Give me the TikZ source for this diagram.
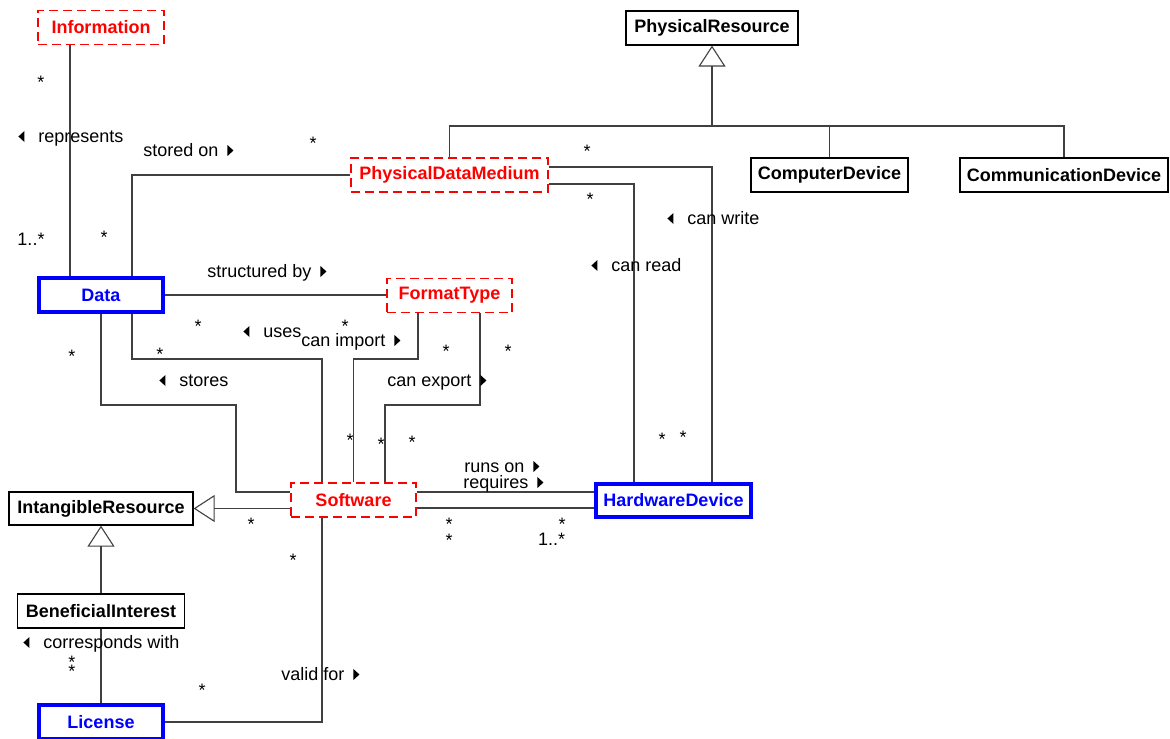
\documentclass[tikz,border=0pt]{standalone}
\usepackage{fontspec}
\setmainfont{Liberation Sans}
\usepackage{tikz}
\usetikzlibrary{arrows.meta, calc}
\definecolor{SoftRed}{rgb}{1,0,0}
\definecolor{CoreBlue}{rgb}{0,0,1}
\definecolor{LineGray}{rgb}{0.25,0.25,0.25}
\newcommand{\rtri}{\hspace{4.5pt}\tikz[baseline=0pt]\fill (0pt,0pt) -- (0pt,5.5pt) -- (3pt,2.75pt) -- cycle;}
\newcommand{\ltri}{\tikz[baseline=0pt]\fill (3pt,0pt) -- (3pt,5.5pt) -- (0pt,2.75pt) -- cycle;\hspace{7pt}}

\begin{document}
\begin{tikzpicture}[x=0.5pt, y=-0.5pt,
    cls/.style={draw, rectangle, inner sep=0pt, minimum height=17pt, line width=0.6pt,
      font=\fontsize{9}{11}\selectfont\bfseries},
    soft/.style={draw=SoftRed, text=SoftRed, dash pattern=on 4.5pt off 2.5pt, line width=0.8pt},
    core/.style={draw=CoreBlue, text=CoreBlue, line width=2pt},
    assoc/.style={draw=LineGray, line width=0.55pt},
    gen/.style={assoc, -{Triangle[open, length=10.5pt, width=13.5pt]}},
    lbl/.style={anchor=base west, inner sep=0pt, font=\fontsize{9}{11}\selectfont},
    mult/.style={anchor=base, inner sep=0pt, font=\fontsize{9}{11}\selectfont}]
  \useasboundingbox (0,0) rectangle (1170,738);

  % classes
  \node[cls, soft, minimum width=63pt] (info) at (101,27.5) {Information};
  \node[cls, minimum width=86pt] (physres) at (712,28) {PhysicalResource};
  \node[cls, soft, minimum width=98.5pt] (pdm) at (449.5,175) {PhysicalDataMedium};
  \node[cls, minimum width=78.5pt] (compdev) at (829.5,175) {ComputerDevice};
  \node[cls, minimum width=104pt] (commdev) at (1064,175) {CommunicationDevice};
  \node[cls, core, minimum width=62pt] (data) at (101,295) {Data};
  \node[cls, soft, minimum width=62.5pt] (fmt) at (449.5,295.5) {FormatType};
  \node[cls, soft, minimum width=62.5pt] (sw) at (353.5,500) {Software};
  \node[cls, core, minimum width=77.5pt, minimum height=16.5pt] (hw) at (673.5,500.5) {HardwareDevice};
  \node[cls, minimum width=92pt, minimum height=16.5pt] (intang) at (101,508.5) {IntangibleResource};
  \node[cls, minimum width=83.5pt] (benef) at (101,611) {BeneficialInterest};
  \node[cls, core, minimum width=62pt] (lic) at (101,722) {License};

  % bend points
  \coordinate (xi) at (70,0);
  \coordinate (so) at (132,175);
  \coordinate (u1) at (132,359);
  \coordinate (u2) at (322,359);
  \coordinate (st1) at (236,405);
  \coordinate (st2) at (236,492);
  \coordinate (im) at (418,359);
  \coordinate (ex1) at (385,405);
  \coordinate (ex2) at (480,405);
  \coordinate (v1) at (322,722);
  \coordinate (w1) at (712,167);
  \coordinate (r1) at (634,184);
  \coordinate (bus) at (712,126);

  % generalisations
  \draw[gen] (bus) -- (physres.south);
  \draw[assoc] (pdm.north) |- (bus) -| (commdev.north);
  \draw[assoc] (compdev.north) -- (compdev.north |- bus);
  \draw[gen] (sw.west |- intang.east) -- (intang.east);
  \draw[gen] (benef.north) -- (intang.south);

  % associations
  \draw[assoc] (info.south -| xi) -- (data.north -| xi);
  \draw[assoc] (data.north -| so) -- (so) -- (pdm.west);
  \draw[assoc] (data.east) -- (fmt.west |- data.east);
  \draw[assoc] (data.south -| u1) -- (u1) -- (u2) -- (sw.north -| u2);
  \draw[assoc] (data.south) |- (st1) -- (st2) -- (sw.west |- st2);
  \draw[assoc] (sw.north) |- (im) -- (fmt.south -| im);
  \draw[assoc] (sw.north -| ex1) -- (ex1) -- (ex2) -- (fmt.south -| ex2);
  \draw[assoc] ([yshift=4pt]sw.east) -- ([yshift=4pt]sw.east -| hw.west);
  \draw[assoc] ([yshift=-4pt]sw.east) -- ([yshift=-4pt]sw.east -| hw.west);
  \draw[assoc] (sw.south -| v1) -- (v1) -- (lic.east);
  \draw[assoc] (benef.south) -- (lic.north);
  \draw[assoc] (pdm.east |- w1) -- (w1) -- (hw.north -| w1);
  \draw[assoc] (pdm.east |- r1) -- (r1) -- (hw.north -| r1);

  % role names
  \node[lbl] (lrep) at (18,142) {\ltri represents};
  \node[lbl] (lsto) at (143,156) {stored on\rtri};
  \node[lbl] (lstr) at (207,277) {structured by\rtri};
  \node[lbl] (luse) at (243,337) {\ltri uses};
  \node[lbl] (limp) at (301,346) {can import\rtri};
  \node[lbl] (lsts) at (159,386) {\ltri stores};
  \node[lbl] (lexp) at (387,386) {can export\rtri};
  \node[lbl] (lrun) at (464,472) {runs on\rtri};
  \node[lbl] (lreq) at (463,488) {requires\rtri};
  \node[lbl] (lwri) at (667,224) {\ltri can write};
  \node[lbl] (lrea) at (591,271) {\ltri can read};
  \node[lbl] (lcor) at (23,648) {\ltri corresponds with};
  \node[lbl] (lval) at (281,680) {valid for\rtri};

  % multiplicities
  \foreach \x/\y [count=\i] in {41/79, 313/139, 104/233, 587/147, 590/195, 198/322,
      345/322, 160/350, 72/352, 446/347, 508/347, 350/436, 381/440, 412/438,
      662/435, 683/433, 251/520, 449/520, 449/536, 562/520, 293/556, 202/686,
      72/658, 72/667}
    \node[mult] (m\i) at (\x,\y+10) {*};
  \node[mult] (mia) at (31,245) {1..*};
  \node[mult] (mib) at (551.5,545) {1..*};
\end{tikzpicture}
\end{document}
